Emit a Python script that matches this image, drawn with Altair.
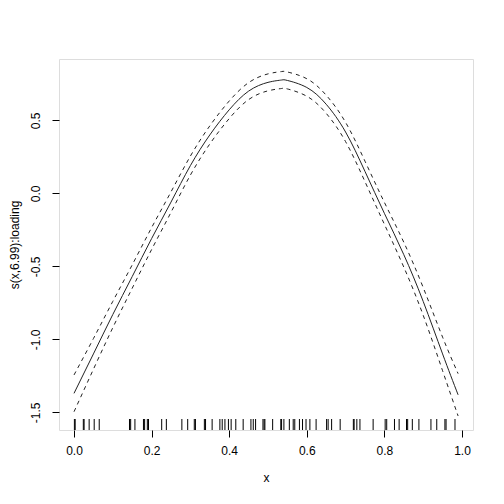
import altair as alt
import pandas as pd

# Smooth term estimate (solid) and +/- 2 SE bands (dashed)
x_grid = [0.0, 0.05, 0.1, 0.15, 0.2, 0.25, 0.3, 0.35, 0.4, 0.45, 0.5, 0.535,
          0.55, 0.6, 0.65, 0.7, 0.75, 0.8, 0.85, 0.9, 0.95, 0.99]
fit = [-1.37, -1.10, -0.83, -0.57, -0.31, -0.06, 0.19, 0.40, 0.572, 0.70, 0.76, 0.776,
       0.773, 0.725, 0.61, 0.42, 0.15, -0.137, -0.42, -0.74, -1.10, -1.38]
se = [0.126, 0.105, 0.09, 0.08, 0.075, 0.07, 0.065, 0.062, 0.06, 0.058, 0.058, 0.058,
      0.058, 0.06, 0.062, 0.066, 0.07, 0.075, 0.085, 0.095, 0.115, 0.145]
upper = [f + s for f, s in zip(fit, se)]
lower = [f - s for f, s in zip(fit, se)]

# Rug of observed x values
rug_x = [0.001, 0.003, 0.024, 0.026, 0.039, 0.052, 0.065, 0.143, 0.146, 0.157,
         0.179, 0.182, 0.189, 0.192, 0.226, 0.238, 0.278, 0.293, 0.310, 0.313,
         0.336, 0.339, 0.356, 0.376, 0.382, 0.389, 0.398, 0.405, 0.417, 0.436,
         0.456, 0.462, 0.468, 0.487, 0.490, 0.492, 0.512, 0.533, 0.535, 0.541,
         0.555, 0.565, 0.569, 0.581, 0.589, 0.598, 0.608, 0.624, 0.651, 0.655,
         0.664, 0.686, 0.720, 0.722, 0.729, 0.737, 0.771, 0.802, 0.806, 0.826,
         0.838, 0.857, 0.860, 0.872, 0.889, 0.920, 0.935, 0.956, 0.959, 0.982]

x_ticks = [0.0, 0.2, 0.4, 0.6, 0.8, 1.0]
y_ticks = [-1.5, -1.0, -0.5, 0.0, 0.5]

W, H = 414, 371
FONT = "Liberation Sans"

curves = pd.DataFrame({"x": x_grid * 3,
                       "y": fit + upper + lower,
                       "series": ["fit"] * len(x_grid) + ["upper"] * len(x_grid) + ["lower"] * len(x_grid)})
rug = pd.DataFrame({"x": rug_x})

xscale = alt.Scale(domain=[-0.0387, 1.0284], nice=False, zero=False)
yscale = alt.Scale(domain=[-1.621, 0.920], nice=False, zero=False)

xaxis = alt.Axis(values=x_ticks, format=".1f", title="x", domain=False, grid=False,
                 tickSize=7, tickColor="black", labelColor="black", labelFont=FONT,
                 labelFontSize=12, labelPadding=8, titleFont=FONT, titleFontSize=12,
                 titleFontWeight="normal", titleColor="black", titlePadding=16)
yaxis = alt.Axis(values=y_ticks, title="s(x,6.99):loading", domain=False, grid=False,
                 labelExpr="replace(format(datum.value, '.1f'), '\u2212', '-')",
                 tickSize=7, tickColor="black", labelColor="black", labelFont=FONT,
                 labelFontSize=12, labelAngle=-90, labelAlign="center", labelBaseline="bottom",
                 labelPadding=10, titleFont=FONT, titleFontSize=12, titleFontWeight="normal",
                 titleColor="black", titlePadding=8)

solid = alt.Chart(curves).transform_filter(alt.datum.series == "fit").mark_line(
    color="#222222", strokeWidth=1, interpolate="natural").encode(
    x=alt.X("x:Q", scale=xscale, axis=xaxis),
    y=alt.Y("y:Q", scale=yscale, axis=yaxis))

dashed = alt.Chart(curves).transform_filter(alt.datum.series != "fit").mark_line(
    color="#222222", strokeWidth=1, strokeDash=[4, 4], interpolate="natural").encode(
    x=alt.X("x:Q", scale=xscale),
    y=alt.Y("y:Q", scale=yscale),
    detail="series:N")

rugs = alt.Chart(rug).mark_rule(color="black", strokeWidth=1).encode(
    x=alt.X("x:Q", scale=xscale),
    y=alt.value(H),
    y2=alt.value(H - 11))

chart = alt.layer(solid, dashed, rugs).properties(
    width=W, height=H,
    autosize=alt.AutoSizeParams(type="none"),
    padding={"left": 51, "top": 51, "right": 23, "bottom": 66},
).configure_view(stroke="black", strokeWidth=1).configure(background="white")

chart.save("out.html", embed_options={"renderer": "svg", "actions": False})
